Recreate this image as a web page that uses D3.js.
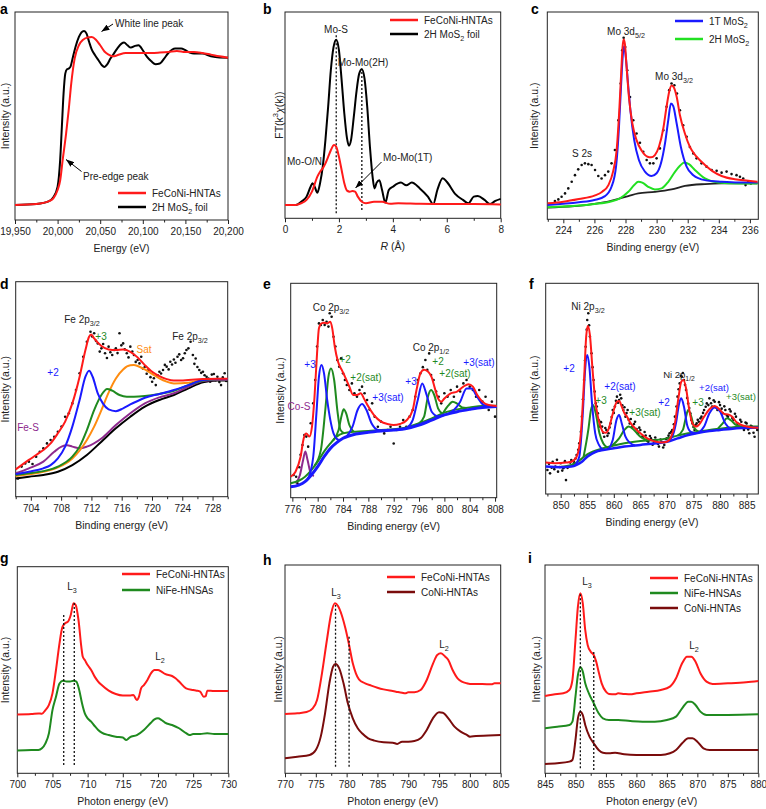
<!DOCTYPE html>
<html><head><meta charset="utf-8">
<script src="https://cdn.jsdelivr.net/npm/d3@7"></script>
<style>body{margin:0;background:#fff}svg{display:block}</style>
</head><body>
<script>
// ---------------- DATA ----------------
// Panel a: Mo K-edge XANES
const aTicks=[19950,20000,20050,20100,20150,20200];
const aMinor=[19975,20025,20075,20125,20175];
const aFeCoNi=[[19950,7.2],[19975,7.7],[19990,9.1],[19995,10.4],[20000,14.4],[20003,19],[20006,29],[20010,41.6],[20013,52.8],[20016,65.6],[20020,77.6],[20025,84],[20030,86.7],[20035,87.7],[20040,88],[20045,86.7],[20050,84],[20055,81],[20060,79.5],[20065,78.7],[20070,79.2],[20080,80.3],[20090,80.3],[20100,80.3],[20110,80.3],[20120,80.5],[20130,80.8],[20140,81.3],[20150,80.8],[20160,80.8],[20170,80.3],[20180,79.5],[20190,78.7],[20200,78]];
const aMoS2=[[19950,7.2],[19975,7.7],[19990,9.1],[19995,10.9],[20000,16],[20003,28.8],[20005,44.8],[20007,60.8],[20009,70.4],[20011,72.5],[20013,72.8],[20015,73.6],[20018,78.4],[20021,83.2],[20025,88],[20028,90.2],[20031,90.9],[20034,89.6],[20037,85.6],[20040,82],[20044,79.2],[20048,76.8],[20052,74.4],[20055,73.6],[20058,74.7],[20062,77.6],[20066,80],[20070,82.4],[20075,84.8],[20078,85.3],[20082,84],[20086,82.9],[20091,83.7],[20095,84],[20100,81.6],[20105,78.4],[20110,76.3],[20115,74.9],[20120,75.2],[20125,77.6],[20130,80.3],[20138,82.4],[20145,82.4],[20150,81.6],[20155,80.5],[20160,80],[20170,80],[20180,78.7],[20190,78.1],[20200,78]];

// Panel b: FT-EXAFS
const bTicks=[0,2,4,6,8];
const bMinor=[1,3,5,7];
const bMoS2=[[0,6.5],[0.4,6.5],[0.6,8],[0.8,10.5],[0.95,15.3],[1.02,17],[1.1,15.3],[1.2,12.4],[1.3,17],[1.4,25],[1.5,38],[1.6,54],[1.7,71.8],[1.8,83],[1.9,86.6],[2.0,81.5],[2.1,67],[2.2,50.8],[2.3,38.7],[2.37,35.2],[2.45,38],[2.55,49],[2.65,61.3],[2.75,70],[2.85,72.3],[2.95,67.7],[3.05,54],[3.15,34.7],[3.25,20],[3.32,14.5],[3.4,17.3],[3.5,18.5],[3.6,13.7],[3.72,7.6],[3.85,13.7],[4.0,15.3],[4.3,17.3],[4.5,16],[4.7,17.3],[5.0,14.5],[5.3,10.5],[5.5,6.9],[5.65,13.7],[5.85,19.4],[6.0,17.7],[6.3,12],[6.6,8.9],[6.8,7.3],[7.0,10.5],[7.15,10.8],[7.4,8.9],[7.6,6.9],[7.8,8.4],[8.0,9.4]];
const bFeCoNi=[[0,6.5],[0.4,6.5],[0.6,7.3],[0.8,8.9],[1.0,12.9],[1.2,20.2],[1.3,22.6],[1.4,24.2],[1.5,26.6],[1.6,29.8],[1.7,33],[1.82,35.5],[1.9,34.7],[2.0,29.8],[2.1,23.4],[2.2,17],[2.3,13.4],[2.4,12.9],[2.5,13.2],[2.6,12.9],[2.7,10.5],[2.85,8],[3.0,7.3],[3.3,8],[3.6,8],[3.9,7],[4.2,7.3],[5.0,7],[6.0,6.9],[7.0,6.9],[8.0,6.7]];
const bDash=[[1.9,2.4,88.7],[2.85,4,72.6]];

// Panel c: Mo 3d XPS
const cTicks=[224,226,228,230,232,234,236];
const cMinor=[223,225,227,229,231,233,235];
const cDots=[[223.46,8.8],[223.68,9.6],[223.89,10.9],[224.11,12.5],[224.32,14.9],[224.54,18.1],[224.75,21.3],[224.96,24.1],[225.18,26.2],[225.39,27],[225.61,26.6],[225.82,26.2],[226.04,23.8],[226.25,20.9],[226.46,19.7],[226.68,21.3],[226.89,23],[227.1,27],[227.32,33.4],[227.54,47.8],[227.69,65.5],[227.79,81.5],[227.88,87.6],[227.98,83.1],[228.11,71.9],[228.29,59],[228.5,47.8],[228.71,41.4],[228.93,36.9],[229.14,32.6],[229.36,28.6],[229.57,27],[229.79,27],[230,29.4],[230.21,34.2],[230.43,43],[230.64,54.3],[230.81,62.3],[230.96,65.5],[231.14,64.7],[231.31,60.7],[231.5,52.6],[231.71,45.4],[231.93,39.8],[232.14,34.9],[232.36,31.8],[232.57,29.4],[232.89,27],[233.21,25.4],[233.54,23.8],[233.86,23.4],[234.18,22.5],[234.5,23],[234.82,21.8],[235.14,21.3],[235.36,20.5],[235.57,19.7],[235.72,16.5],[235.89,18.1],[236.06,17.3]];
const cEnvelope=[[222.99,7.7],[224,8.5],[225,9.8],[226,11.4],[226.5,13.3],[226.9,16.5],[227.2,23],[227.43,33.4],[227.6,52.6],[227.73,71.9],[227.81,83.1],[227.88,86.7],[227.96,84.6],[228.07,73.5],[228.22,59],[228.44,46.2],[228.71,38.2],[229.04,33.1],[229.42,30.2],[229.64,29.9],[229.89,31],[230.15,35],[230.43,43.8],[230.64,54.3],[230.81,61.5],[230.96,64.5],[231.11,63.6],[231.29,59.1],[231.5,50.2],[231.82,41.4],[232.14,34.9],[232.57,30.2],[233.11,26.2],[233.64,23],[234.18,20.9],[235.03,19.3],[235.9,18.6],[236.49,18.1]];
const c1T=[[222.99,6.9],[225,8.2],[226,9.3],[226.68,11.2],[227.1,15.7],[227.39,25.4],[227.58,44.6],[227.71,63.9],[227.81,77.5],[227.9,83.5],[228.0,79.5],[228.14,67.4],[228.31,52.9],[228.56,38.2],[228.86,28.6],[229.25,23],[229.68,20.9],[230,22.2],[230.28,27],[230.54,36.6],[230.75,47.8],[230.92,55.9],[231.07,54.6],[231.29,46.2],[231.56,34.9],[231.93,25.4],[232.36,21.3],[233.11,18.9],[234.18,18.1],[235.25,17.7],[236.49,17.7]];
const c2H=[[222.99,5.8],[225,6.6],[226,7.4],[227,8.5],[227.64,10.1],[228.18,13.3],[228.56,16.5],[228.82,18.1],[229.08,17.7],[229.46,15.7],[229.89,14.4],[230.32,14.9],[230.75,18.1],[231.18,22.9],[231.5,25.8],[231.78,27.4],[232.08,26.6],[232.46,23.8],[233.11,19.7],[233.96,17.8],[235.25,17.3],[236.49,17.3]];
const cBackground=[[222.99,5.6],[226,7.4],[227,8.8],[227.64,10.1],[228.18,11.2],[228.82,12.5],[229.89,13.2],[230.96,14.4],[231.82,16.1],[233.11,17],[234.18,17.3],[236.49,17.3]];

// Panel d: Fe 2p XPS
const dTicks=[704,708,712,716,720,724,728];
const dMinor=[702,706,710,714,718,722,726,730];
const dDots=[[702.3,8.5],[702.78,14],[703.26,15.5],[703.74,16.3],[704.22,15.2],[704.7,18.6],[705.18,20.9],[705.65,22.5],[706.13,24.8],[706.61,26.4],[707.09,27.9],[707.57,30.2],[708.05,32.6],[708.53,37.2],[709.01,38.8],[709.48,43.4],[709.96,49.6],[710.44,57.4],[710.92,65.1],[711.4,72.1],[711.88,76.7],[712.1,74.5],[712.36,76],[712.6,72.5],[712.84,71.3],[713.1,67.5],[713.32,69],[713.55,71],[713.8,66.7],[714.05,64.5],[714.27,69.8],[714.5,67.2],[714.75,65.9],[715.0,68.2],[715.23,69],[715.45,66.8],[715.71,76],[715.95,70.4],[716.19,71.3],[716.4,68.6],[716.67,66.7],[716.9,64.8],[717.14,69.8],[717.4,67.5],[717.62,65.9],[717.85,62.7],[718.1,63.6],[718.35,62],[718.58,65.1],[718.8,59.6],[719.06,60.5],[719.3,57.2],[719.54,58.9],[719.8,55.6],[720.02,53.5],[720.25,55.1],[720.5,51.9],[720.75,56.5],[720.98,58.1],[721.2,57.3],[721.46,58.9],[721.7,61.3],[721.94,60.5],[722.2,59.2],[722.42,62.8],[722.65,61.5],[722.89,63.8],[723.1,62.3],[723.37,65.1],[723.6,66.2],[723.85,63.6],[724.1,64.4],[724.33,66.7],[724.55,68.2],[724.81,69],[725.1,72.1],[725.4,65.9],[725.6,61.8],[725.77,64.3],[726.0,60.3],[726.25,58.9],[726.5,57.6],[726.73,58.1],[726.95,56.5],[727.21,55.8],[727.45,54.9],[727.69,53.5],[727.9,56.8],[728.17,57.1],[728.4,54.2],[728.64,55.8],[728.9,53.3],[729.12,51.9],[729.35,55.5],[729.6,57.4],[729.8,53.8]];
const dEnvelope=[[702,12.7],[702.78,14.7],[703.74,17.1],[704.7,19.4],[705.65,21.7],[706.61,24.8],[707.57,29.5],[708.53,34.9],[709.48,43.4],[710.44,55.8],[711.21,68.2],[711.69,74.4],[711.97,75.5],[712.36,73.6],[713.32,70.1],[714.27,68.5],[715.23,68.2],[716.19,68.5],[717.14,67.4],[718.1,64.8],[719.06,61.2],[720.02,58.1],[720.98,56.1],[721.94,54.7],[722.89,54],[723.85,54],[724.81,54.3],[726.73,54.7],[728.64,54.9],[730,54.9]];
const dFe2=[[702,10.5],[703.74,11.6],[705.65,13.2],[706.61,14.7],[707.57,17.8],[708.53,23.3],[709.48,32.6],[710.44,45],[711.21,55.8],[711.69,58.6],[712.16,55.8],[712.84,48.1],[713.51,43.4],[714.27,40.6],[715.23,39.8],[716.19,41.1],[717.14,42.9],[718.1,44.5],[719.06,46],[720.98,47.8],[722.89,49.6],[724.81,51.9],[726.73,54.3],[728.64,54.7],[730,54.7]];
const dFe3=[[702,10.1],[703.74,10.9],[705.65,11.9],[707.57,14],[709.48,18.6],[710.44,23.3],[711.4,31],[712.36,40.3],[713.32,47.3],[714.08,50.1],[714.75,49.3],[715.71,47.3],[716.67,46.5],[717.62,46.5],[719.06,46.8],[720.98,47.8],[722.89,49.3],[724.81,51.9],[726.73,54],[728.64,54.6],[730,54.6]];
const dSat=[[702,9.6],[703.74,10.4],[705.65,11.6],[707.57,13.6],[709.48,17.8],[711.4,26.4],[712.36,32.6],[713.32,40.3],[714.27,48.4],[715.23,55],[716.19,59.2],[717.14,61.1],[717.62,61.2],[718.1,60.8],[719.06,59.2],[720.02,57.1],[720.98,55],[721.94,53.5],[722.89,52.7],[724.81,53],[726.73,54.3],[728.64,54.7],[730,54.7]];
const dFeS=[[702,10.9],[703.74,13.2],[705.65,16.3],[707.09,20.9],[708.05,23.3],[708.81,23.9],[709.48,23.3],[710.44,22.5],[711.4,23.3],[713.32,27.1],[715.23,33.3],[717.14,38.8],[719.06,43.4],[720.98,46.2],[722.89,48.1],[724.81,51.2],[726.73,53.8],[728.64,54.3],[730,54.3]];
const dBackground=[[702,8.5],[703.74,9.3],[705.65,10.1],[707.57,11.6],[709.48,14.7],[711.4,19.4],[713.32,25.6],[715.23,31.8],[717.14,37.2],[719.06,41.9],[720.98,45],[722.89,47.3],[724.81,50.4],[726.73,53.2],[728.64,54],[730,54]];

// Panel e: Co 2p XPS
const eTicks=[776,780,784,788,792,796,800,804,808];
const eMinor=[778,782,786,790,794,798,802,806];
const eDots=[[776.2,10.6],[776.6,9.8],[776.8,6.7],[777.1,14.2],[777.3,20],[777.6,24.6],[777.9,29.2],[778.2,28.5],[778.5,23.8],[778.9,34.7],[779.3,44],[779.6,54.9],[779.9,70.5],[780.2,81.3],[780.5,80.6],[780.8,82.9],[781.1,80.6],[781.4,82.1],[781.7,79.8],[781.9,86],[782.2,84.4],[782.5,75.1],[782.8,70.5],[783.1,64.2],[783.4,61.1],[783.7,65],[784.0,58],[784.3,54.9],[784.6,52.6],[785,50.2],[785.4,53.3],[785.8,48.7],[786.2,47.1],[786.6,50.2],[787.0,51.8],[787.4,48.7],[787.8,45.6],[788.2,41.1],[788.6,44],[789.0,37.8],[789.5,33.1],[790,35.5],[790.5,30],[791,31.6],[791.5,33.1],[792,25.3],[792.5,31.6],[793,33.1],[793.5,36.2],[794,33.1],[794.5,37.8],[795,40.9],[795.4,47.1],[795.8,54.9],[796.2,57.9],[796.6,60.9],[797.0,64.2],[797.3,59.6],[797.6,67.3],[797.9,57.2],[798.3,54.9],[798.7,49.5],[799.1,47.1],[799.5,44],[800,48.7],[800.5,47.1],[801,50.2],[801.5,47.1],[802,51.8],[802.5,49.5],[803,53.3],[803.5,54.9],[804,51.8],[804.5,50.2],[805,47.1],[805.5,50.2],[806,44.8],[806.5,47.1],[807,40.9],[807.5,44.8],[808,37.8]];
const eEnvelope=[[775.74,9.8],[776.5,12.1],[777.3,19.1],[777.8,27.7],[778.2,29.9],[778.7,28.5],[779.1,33.1],[779.5,47.1],[779.9,67.3],[780.2,79],[780.6,81.3],[781.0,81.6],[781.5,81.3],[782.0,82.1],[782.3,79],[782.7,70.4],[783.2,63.5],[783.8,59.6],[784.3,56.5],[785,51.8],[785.6,47.9],[786.2,47.9],[786.8,48.7],[787.3,46.3],[788,42.5],[789,38.1],[790,35.5],[791,34.4],[792,33.9],[793,34.4],[794,36],[795,40.9],[795.6,50.2],[796.2,57.9],[796.8,59.7],[797.5,58.6],[798.0,56.1],[798.5,51],[799,46.3],[799.5,44.8],[800,46.3],[801,48.7],[802,49.5],[803,51.8],[803.8,52.9],[804.5,51.8],[805.2,47.9],[806,44.8],[807,43.2],[808.26,42.8]];
const eBlueBg=[[775.74,5.1],[777,5.9],[778,7.5],[779,10.6],[780,14.5],[781,19.1],[782,23],[783,25.7],[784,27.7],[786,29.7],[788,30.5],[790,31.1],[792,31.6],[794,32.3],[796,33.9],[798,36.2],[800,38.6],[802,40.1],[804,41.2],[806,42.1],[808.26,42.5]];
const eCo3a=[[778.5,9],[779.3,19.1],[779.8,39.3],[780.2,56.5],[780.6,61.9],[781.0,58],[781.5,45.6],[782,36.2],[782.5,30],[783,27.5],[783.5,26.7]];
const eCo3sat=[[784.5,28.2],[785.5,33.1],[786.3,40.9],[787,43.7],[787.7,40.9],[788.5,34.7],[789.5,31.6],[790.5,31.2]];
const eCo3b=[[794,32.3],[795,36.2],[795.8,45.6],[796.5,53.3],[797.2,47.9],[798,40.1],[799,38],[800,38.6]];
const eCo3satb=[[800.5,38.9],[801.5,40.9],[802.5,44.8],[803.5,50.9],[804.3,50.9],[805,47.9],[806,43.7],[807,42.3]];
const eGreenBg=[[775.74,6.7],[777,7.9],[778,9.8],[779,12.9],[780,16.8],[781,21.5],[782,25.3],[783,28.5],[784,30],[786,30.8],[788,31.1],[790,31.6],[792,31.9],[794,32.8],[796,34.7],[798,37],[800,39.7],[802,41.2],[804,42.1],[806,42.8],[808.26,42.9]];
const eCo2a=[[779.5,14.9],[780.5,22.2],[781.2,40.9],[781.7,56.5],[782.1,60.3],[782.6,54.9],[783.1,40.9],[783.6,31.6],[784.2,30.1]];
const eCo2sat=[[782.5,26.9],[783.3,31.6],[783.8,38.6],[784.1,41.2],[784.5,39.3],[785,33.9],[785.7,30.7]];
const eCo2b=[[796,34.7],[796.8,37.8],[797.4,47.1],[797.9,50.2],[798.4,47.9],[799,41.7],[799.7,39.2]];
const eCo2satb=[[799.8,39.5],[800.6,42.9],[801.3,44.8],[802,43.9],[802.8,42.1],[803.5,41.8]];
const eCoS=[[776.5,6.7],[777.2,10.6],[777.7,17.6],[778.05,21.5],[778.4,17.6],[778.9,11.4],[779.4,10.1]];

// Panel f: Ni 2p XPS
const fTicks=[850,855,860,865,870,875,880,885];
const fMinor=[847.5,852.5,857.5,862.5,867.5,872.5,877.5,882.5];
const fDots=[[847.5,11.4],[847.8,14.3],[848,9.8],[848.3,12.5],[848.5,15.3],[848.8,11.8],[849,13],[849.3,16.2],[849.5,10.6],[849.8,12.8],[850,14.6],[850.3,11.1],[850.5,12.2],[850.8,15.6],[851,6.6],[851.3,12.4],[851.5,13],[851.8,14.9],[852,16.1],[852.3,13.8],[852.5,15.3],[852.8,16.8],[853,18.5],[853.3,21],[853.5,24.1],[853.8,29.5],[854,36.7],[854.2,45],[854.4,54.1],[854.6,63.5],[854.7,69.9],[854.9,78],[855,82.6],[855.2,85.8],[855.35,80.1],[855.5,74.7],[855.8,66.8],[856,60.2],[856.2,54.1],[856.4,48.6],[856.6,43],[856.8,41.5],[857,38.3],[857.2,35],[857.4,32],[857.6,34.1],[857.8,32],[858,29.1],[858.2,27.2],[858.4,31.3],[858.6,30.4],[858.8,27.6],[859,28.8],[859.2,31.6],[859.4,33.5],[859.6,36.5],[859.8,39.9],[860,38.5],[860.2,41.5],[860.4,44.2],[860.6,46.2],[860.8,43.3],[861,44.6],[861.2,47.1],[861.4,45.4],[861.6,42.1],[861.8,39.9],[862,41.2],[862.2,36.7],[862.4,38.4],[862.6,39.9],[862.8,35.2],[863,33.5],[863.2,35.6],[863.5,32],[863.8,33.2],[864,34.3],[864.3,30.8],[864.5,28.8],[864.8,31.5],[865,30.4],[865.3,27.1],[865.5,27.2],[865.8,29.4],[866,27.8],[866.3,25.2],[866.5,24.8],[866.8,27.5],[867,26.4],[867.3,23.4],[867.5,24.1],[867.8,26.8],[868,25.6],[868.3,23.7],[868.5,22.5],[868.8,25.9],[869,24.8],[869.3,22.1],[869.5,23.3],[869.8,26.1],[870,26.4],[870.3,27.7],[870.5,28.8],[870.8,29.5],[871,30.4],[871.3,33.1],[871.5,36.7],[871.8,41.5],[872,46.2],[872.2,49.7],[872.4,52.5],[872.6,56.1],[872.8,55.7],[873,57.4],[873.2,54.1],[873.4,51.8],[873.6,49.4],[873.8,45.6],[874,43],[874.2,40.8],[874.4,38.3],[874.6,35.1],[874.8,33.5],[875,31.8],[875.2,30.4],[875.4,32.7],[875.6,33.5],[875.8,35.2],[876,34.3],[876.3,35.9],[876.5,36.7],[876.8,38.5],[877,39.9],[877.3,41.4],[877.5,43],[877.8,42.2],[878,45.4],[878.3,43.1],[878.5,41.5],[878.8,44.5],[879,43.8],[879.3,41.2],[879.5,39.9],[879.8,43.6],[880,42.2],[880.3,40.5],[880.5,38.3],[880.8,41.6],[881,39.9],[881.3,37.3],[881.5,36.7],[881.8,40.2],[882,39.2],[882.3,36.1],[882.5,35.1],[882.8,38.1],[883,36.7],[883.3,33.4],[883.5,32],[883.8,35.2],[884,34.3],[884.3,31.3],[884.5,30.4],[884.8,33.9],[885,33.5],[885.3,30.6],[885.5,28.8],[885.8,32.4],[886,32],[886.3,29.1],[886.5,27.2],[886.8,31.6],[887,30.4]];
const fEnvelope=[[847.18,14.9],[849,14.6],[851,14.9],[852,15.3],[853,17.7],[853.8,28.8],[854.4,54.1],[854.8,74.7],[855.1,79.7],[855.5,75.5],[856,58.9],[856.5,44.6],[857,36.7],[857.5,32],[858,29.4],[858.5,29.1],[859,30.7],[859.5,35.1],[860,39.9],[860.6,43.8],[861,44.1],[861.5,41.5],[862,38.3],[862.5,36.7],[863,34.3],[864,31.2],[865,28.8],[866,26.9],[867,25.6],[868,24.8],[869,24.5],[870,24.8],[870.8,27.2],[871.5,33.5],[872.2,46.2],[872.7,53.3],[873.1,54.1],[873.6,50.2],[874.2,39.9],[874.8,33.5],[875.5,32],[876,32.8],[877,36.7],[878,40.2],[879,41.8],[880,39.9],[880.8,38],[881.5,37.8],[882.3,36.7],[883,34.3],[884,32.8],[885,32],[886,31.6],[887.2,31.5]];
const fBlueBg=[[847.18,13],[850,12.7],[852,13],[853,13.8],[854,15.3],[855,17.7],[856,19.3],[857,20.4],[858,20.9],[860,21.7],[862,22.5],[865,23.3],[868,24.1],[870,24.8],[872,26.4],[874,28],[876,29.1],[878,29.9],[880,30.4],[882,30.9],[884,31.3],[887.2,31.6]];
const fGreenBg=[[850,12.9],[852,13.8],[853,14.9],[854,16.9],[855,18.8],[856,20.1],[858,21.7],[860,23],[862,24.1],[865,25.2],[868,25.6],[870,26.4],[872,27.7],[874,28.8],[876,29.6],[878,30.4],[880,31],[882,31.6],[884,32],[887.2,32]];
const fNi2a=[[852.5,13.2],[853.5,17.7],[854.2,39.9],[854.6,58.9],[855.0,66],[855.4,60.4],[855.9,43],[856.5,28.8],[857.2,23.3],[858,20.9]];
const fNi2sat=[[859,21.3],[859.8,25.6],[860.5,35.1],[861,37.5],[861.5,33.5],[862.2,27.2],[863,24.4],[864,23]];
const fNi3a=[[854.3,17.5],[855.2,30.4],[855.7,39.9],[856.1,42.2],[856.6,38.3],[857.3,28.8],[858,24.1],[858.7,22.2]];
const fNi3sat=[[859.5,22.6],[861,26.4],[862,30.4],[862.8,32],[863.8,30.4],[865,27.2],[866.5,25.6],[868,25.6]];
const fNi2b=[[870,24.8],[871,27.2],[871.7,33.5],[872.3,43],[872.7,45.4],[873.2,41.5],[873.8,32.8],[874.5,29.5],[875.5,28.8]];
const fNi3b=[[872,27.7],[873,30.4],[873.6,36.7],[874,39.9],[874.5,37.5],[875.2,31.2],[876,29.6]];
const fNi2satb=[[876,29.1],[877,32],[878,38.3],[879,41.1],[880,39.2],[881,33.5],[882,30.9]];
const fNi3satb=[[879.5,30.8],[880.5,33.5],[881.3,35.9],[882,35.1],[883,32.8],[884,32]];

// Panel g: Fe L-edge
const gTicks=[700,705,710,715,720,725,730];
const gMinor=[702.5,707.5,712.5,717.5,722.5,727.5];
const gFeCoNi=[[700,28.5],[702,28.7],[703,29],[703.5,28.8],[704,30.6],[704.5,33.1],[705,38.7],[705.5,50],[706,62.9],[706.4,70.6],[706.8,72.6],[707.2,73.4],[707.6,76.6],[708.0,82.3],[708.3,81.5],[708.7,74.2],[709.1,61.3],[709.3,56.5],[709.6,54.8],[710,52.4],[710.5,50],[711,46.8],[711.5,44.4],[712,42.7],[713,40],[714,38.4],[715,37.7],[716,37.7],[716.5,37.9],[717,35.5],[717.3,37.1],[717.6,41.1],[718,42.7],[718.5,45.2],[719,48.4],[719.5,50],[720,50],[720.5,49.2],[721,48.1],[722,47.1],[722.5,46],[723,44.4],[724,41.1],[725,40.3],[725.5,40],[726,39.5],[726.5,37.1],[726.8,37.4],[727,40],[728,39.8],[730,39.8]];
const gNiFe=[[700,11],[702,11.3],[703,11.3],[703.5,12.1],[704,14.5],[704.5,19.4],[705,30.6],[705.5,37.1],[706,43.5],[706.5,44.8],[707,44.4],[707.5,44.4],[708,44.8],[708.4,44.4],[708.8,40.3],[709.2,33.9],[709.6,29],[710,26.6],[710.5,25],[711,22.9],[711.5,21],[712,19.7],[713,18.5],[714,17.7],[715,17.3],[715.5,16.1],[716,17.4],[717,18.5],[718,21],[719,24.5],[719.5,26.1],[720,26.6],[720.5,25.8],[721,24.5],[722,23.4],[723,21.8],[724,19.4],[724.5,18.5],[725,19],[726,19],[727,19.4],[728,19],[730,19]];
const gDash=[[706.6,4,76.6],[708.1,4,83]];

// Panel h: Co L-edge
const hTicks=[770,775,780,785,790,795,800,805];
const hMinor=[772.5,777.5,782.5,787.5,792.5,797.5,802.5];
const hFeCoNi=[[770,28.5],[772,28.8],[773.5,29.4],[774.5,31.2],[775.2,35.2],[776,48],[776.8,64],[777.5,76.8],[778.1,81.6],[778.6,80.3],[779.2,76],[779.8,69.6],[780.4,61.6],[781,52.8],[781.5,48],[782,45.1],[783,43.2],[784,42.1],[785,41.1],[786,40.3],[787,39.7],[788,39.2],[789,38.7],[789.5,38.4],[790,38.9],[791,38.9],[792,40],[793,44.8],[794,52.5],[794.7,56.8],[795.3,57.6],[796,56],[796.5,54.4],[797.2,49.6],[798,45.6],[798.7,44],[799.5,43.2],[800,42.9],[802,42.9],[803.5,42.7],[804,43.2],[805,43.2]];
const hCoNi=[[770,7.2],[772,8],[774,8.8],[775,11.2],[775.8,17.6],[776.5,28.8],[777.2,43.2],[777.8,51.2],[778.2,52.5],[778.8,50.4],[779.5,43.2],[780.2,33.6],[781,26.4],[781.8,21.6],[782.5,19.2],[783.5,16.8],[784.5,15.7],[786,14.9],[787.5,14.7],[788.2,14.1],[789,15.2],[790,15.2],[791,15.5],[792,16.8],[793,20.8],[794,26.4],[795,29.3],[795.6,29.1],[796.5,26.4],[797.5,22.4],[798.5,20],[799.5,18.4],[800,17.6],[801,17.9],[803,18.1],[805,18.4]];
const hDash=[[778.2,3.2,80.8],[780.4,3.2,66.4]];

// Panel i: Ni L-edge
const iTicks=[845,850,855,860,865,870,875,880];
const iMinor=[847.5,852.5,857.5,862.5,867.5,872.5,877.5];
const iFeCoNi=[[845,37.1],[847,38.1],[848,38.4],[849,40],[849.5,44.8],[850,64],[850.4,80],[850.8,86.4],[851.2,81.6],[851.6,68.8],[852,61.6],[852.5,58.4],[853,56.8],[853.4,53.6],[853.8,48.8],[854.3,43.2],[855,39.2],[855.5,38.1],[856.5,37.9],[857,38.4],[858,38.1],[859,37.9],[860,38.4],[862,39.2],[864,40],[865.5,41.6],[866.5,45.6],[867.5,52.8],[868.3,56],[869,56],[869.7,53.6],[870.5,48],[871.5,44],[872.5,42.9],[875,43.2],[878,43.7],[880,44.3]];
const iNiFe=[[845,21.6],[847,22.4],[849,23.2],[849.5,24.8],[850,36.8],[850.4,47.2],[850.8,50.9],[851.2,48.8],[851.6,43.2],[852.2,38.4],[853,33.6],[853.8,28.8],[854.5,26.4],[855.5,25.6],[857,25.6],[859,25.1],[861,24.8],[863,24.8],[865,25.6],[866.5,27.2],[867.5,31.2],[868.5,34.4],[869,34.4],[869.7,32.8],[870.5,29.6],[871.5,28],[873,28],[875,28],[880,28.3]];
const iCoNi=[[845,4.5],[847,4.8],[849,5.6],[849.5,6.4],[850,16],[850.4,26.4],[850.8,29.6],[851.2,28],[851.6,23.2],[852.3,17.6],[853,14.4],[853.8,11.2],[854.5,9.9],[855.5,9.6],[856.5,9.9],[858,9.1],[860,8.8],[862,8.8],[864,8.8],[865.5,9.6],[866.5,11.2],[867.5,14.4],[868.5,16.8],[869.2,16.8],[870,15.2],[871,12],[872,11.2],[874,11.2],[880,11.2]];
const iDash=[[850.8,2.4,86.4],[853,1.6,58.4]];

// ---------------- DRAWING ----------------
const FONT="'Liberation Sans', Arial, Helvetica, sans-serif";
const RED="#ff1a1a", BLUE="#1a1aff", LIME="#22e022", GREEN="#1f8a1f", ORANGE="#ff8c10", PURPLE="#8e2a8e", DKRED="#7a0c0c";

const svg=d3.select("body").append("svg").attr("width",766).attr("height",809);
const defs=svg.append("defs");
defs.append("marker").attr("id","arr").attr("viewBox","0 0 8 6").attr("refX",8).attr("refY",3)
  .attr("markerWidth",8).attr("markerHeight",6).attr("markerUnits","userSpaceOnUse").attr("orient","auto")
  .append("path").attr("d","M0,0L8,3L0,6Z").attr("fill","#000");

function rich(g,x,y,parts,o={}){
  const size=o.size||10;
  const t=g.append("text").attr("x",x).attr("y",y).attr("font-family",FONT).attr("font-size",size)
    .attr("fill",o.color||"#222").attr("text-anchor",o.anchor||"start");
  if(o.transform) t.attr("transform",o.transform);
  let cur=0;
  parts.forEach(p=>{
    let txt, off=0, small=false, ital=false;
    if(typeof p==="string"){txt=p;}
    else if(p.sub!==undefined){txt=p.sub;off=size*0.32;small=true;}
    else if(p.sup!==undefined){txt=p.sup;off=-size*0.4;small=true;}
    else if(p.i!==undefined){txt=p.i;ital=true;}
    const s=t.append("tspan").text(txt);
    if(off!==cur){s.attr("dy",off-cur);cur=off;}
    if(small) s.attr("font-size",size*0.72);
    if(ital) s.attr("font-style","italic");
  });
  return t;
}

function panel(o){
  const g=svg.append("g");
  const x=d3.scaleLinear().domain(o.xd).range([o.l,o.r]);
  const y=d3.scaleLinear().domain([0,100]).range([o.b,o.t]);
  const ax=g.append("g").attr("transform",`translate(0,${o.b})`)
    .call(d3.axisBottom(x).tickValues(o.major).tickSize(4).tickPadding(4).tickFormat(o.fmt||d3.format("d")));
  ax.select(".domain").remove();
  ax.selectAll("line").attr("stroke","#222");
  ax.selectAll("text").attr("font-family",FONT).attr("font-size",10).attr("fill","#222");
  const am=g.append("g").attr("transform",`translate(0,${o.b})`)
    .call(d3.axisBottom(x).tickValues(o.minor).tickSize(2.5).tickFormat(""));
  am.select(".domain").remove();
  am.selectAll("line").attr("stroke","#222");
  g.append("rect").attr("x",o.l).attr("y",o.t).attr("width",o.r-o.l).attr("height",o.b-o.t)
    .attr("fill","none").attr("stroke","#222").attr("stroke-width",1);
  rich(g,(o.l+o.r)/2,o.b+32,o.xtitle,{anchor:"middle",size:10.5});
  rich(g,0,0,o.ytitle,{anchor:"middle",size:10.5,transform:`translate(${o.yx},${(o.t+o.b)/2}) rotate(-90)`}).attr("dy","0.35em");
  g.append("text").attr("x",o.lx).attr("y",o.ly).text(o.letter).attr("font-family",FONT)
    .attr("font-weight","bold").attr("font-size",14).attr("fill","#000");
  const line=d3.line().x(d=>x(d[0])).y(d=>y(d[1])).curve(d3.curveMonotoneX);
  const plot=g.append("g");
  return {g,plot,x,y,
    path(data,color,w){plot.append("path").datum(data).attr("d",line).attr("fill","none").attr("stroke",color).attr("stroke-width",w||2).attr("stroke-linejoin","round");},
    dots(data){plot.selectAll(null).data(data).enter().append("circle").attr("cx",d=>x(d[0])).attr("cy",d=>y(d[1])).attr("r",1.3).attr("fill","#111");},
    dashes(data){plot.selectAll(null).data(data).enter().append("line").attr("x1",d=>x(d[0])).attr("x2",d=>x(d[0])).attr("y1",d=>y(d[1])).attr("y2",d=>y(d[2])).attr("stroke","#111").attr("stroke-width",1.3).attr("stroke-dasharray","2,2");},
    legend(items,lx,ly,dy){items.forEach((it,k)=>{g.append("line").attr("x1",lx).attr("x2",lx+28).attr("y1",ly+k*dy).attr("y2",ly+k*dy).attr("stroke",it[1]).attr("stroke-width",2.5);
      rich(g,lx+34,ly+k*dy+3.5,it[0],{size:10});});},
    label(px,py,parts,color,anchor,size){rich(g,px,py,parts,{color:color||"#222",anchor:anchor||"middle",size:size||10});},
    arrow(x1,y1,x2,y2){g.append("line").attr("x1",x1).attr("y1",y1).attr("x2",x2).attr("y2",y2).attr("stroke","#000").attr("stroke-width",1).attr("marker-end","url(#arr)");}
  };
}
const IA=["Intensity (a.u.)"];
const BE=["Binding energy (eV)"];
const PE=["Photon energy (eV)"];

// a
const pa=panel({l:15,r:228,t:12,b:220,xd:[19950,20200],major:aTicks,minor:aMinor,fmt:d3.format(","),xtitle:["Energy (eV)"],ytitle:IA,yx:5,letter:"a",lx:0,ly:14});
pa.path(aMoS2,"#000");
pa.path(aFeCoNi,RED);
pa.label(115,27,["White line peak"],"#222","start");
pa.arrow(113,24,101.5,31.5);
pa.label(83,180,["Pre-edge peak"],"#222","start");
pa.arrow(81.5,171.5,66,159.5);
pa.legend([[["FeCoNi-HNTAs"],RED],[["2H MoS",{sub:"2"}," foil"],"#000"]],118,193,14);

// b
const pb=panel({l:285,r:500.7,t:12,b:218.3,xd:[0,8],major:bTicks,minor:bMinor,xtitle:[{i:"R"}," (Å)"],ytitle:["FT(k",{sup:"3"},{i:"χ"},"(k))"],yx:279,letter:"b",lx:263,ly:14});
pb.dashes(bDash);
pb.path(bMoS2,"#000");
pb.path(bFeCoNi,RED);
pb.label(336,33,["Mo-S"]);
pb.label(363,66,["Mo-Mo(2H)"]);
pb.label(287,165,["Mo-O/N"],"#222","start");
pb.label(383,161,["Mo-Mo(1T)"],"#222","start");
pb.arrow(381.5,162,355.5,188);
pb.legend([[["FeCoNi-HNTAs"],RED],[["2H MoS",{sub:"2"}," foil"],"#000"]],390,20,14);

// c
const pc=panel({l:547.3,r:758.3,t:12,b:219.3,xd:[222.97,236.54],major:cTicks,minor:cMinor,xtitle:BE,ytitle:IA,yx:534,letter:"c",lx:531,ly:14});
pc.dots(cDots);
pc.path(cBackground,"#222",1.8);
pc.path(c2H,LIME);
pc.path(c1T,BLUE);
pc.path(cEnvelope,RED);
pc.label(582,157,["S 2s"]);
pc.label(626,35,["Mo 3d",{sub:"5/2"}]);
pc.label(674,80,["Mo 3d",{sub:"3/2"}]);
pc.legend([[["1T MoS",{sub:"2"}],BLUE],[["2H MoS",{sub:"2"}],LIME]],675,21,18);

// d
const pd=panel({l:15.7,r:227.7,t:281.7,b:496.7,xd:[702,730],major:dTicks,minor:dMinor,xtitle:BE,ytitle:IA,yx:5,letter:"d",lx:0,ly:289});
pd.dots(dDots);
pd.path(dBackground,"#000");
pd.path(dFeS,PURPLE);
pd.path(dSat,ORANGE);
pd.path(dFe3,GREEN);
pd.path(dFe2,BLUE);
pd.path(dEnvelope,RED);
pd.label(82,323,["Fe 2p",{sub:"3/2"}]);
pd.label(101,340,["+3"],GREEN);
pd.label(144,353,["Sat"],ORANGE);
pd.label(190,340,["Fe 2p",{sub:"3/2"}]);
pd.label(53,376,["+2"],BLUE);
pd.label(28,431,["Fe-S"],PURPLE);

// e
const pe=panel({l:290.7,r:496.7,t:283.3,b:497.7,xd:[775.74,808.26],major:eTicks,minor:eMinor,xtitle:BE,ytitle:IA,yx:280,letter:"e",lx:263,ly:289});
pe.dots(eDots);
pe.path(eCoS,PURPLE);
pe.path(eGreenBg,GREEN);
[eCo2a,eCo2sat,eCo2b,eCo2satb].forEach(s=>pe.path(s,GREEN));
pe.path(eBlueBg,BLUE,3);
[eCo3a,eCo3sat,eCo3b,eCo3satb].forEach(s=>pe.path(s,BLUE));
pe.path(eEnvelope,RED);
pe.label(331,311,["Co 2p",{sub:"3/2"}]);
pe.label(310,368,["+3"],BLUE);
pe.label(345,363,["+2"],GREEN);
pe.label(366,381,["+2(sat)"],GREEN);
pe.label(388,401,["+3(sat)"],BLUE);
pe.label(299,410,["Co-S"],PURPLE);
pe.label(431,351,["Co 2p",{sub:"1/2"}]);
pe.label(411,385,["+3"],BLUE);
pe.label(438,365,["+2"],GREEN);
pe.label(455,377,["+2(sat)"],GREEN);
pe.label(479,366,["+3(sat)"],BLUE);

// f
const pf=panel({l:545.7,r:758.3,t:283.3,b:494,xd:[847.18,887.2],major:fTicks,minor:fMinor,xtitle:BE,ytitle:IA,yx:534,letter:"f",lx:529,ly:289});
pf.dots(fDots);
pf.path(fGreenBg,GREEN);
[fNi3a,fNi3sat,fNi3b,fNi3satb].forEach(s=>pf.path(s,GREEN));
pf.path(fBlueBg,BLUE,2.5);
[fNi2a,fNi2sat,fNi2b,fNi2satb].forEach(s=>pf.path(s,BLUE));
pf.path(fEnvelope,RED);
pf.label(588,310,["Ni 2p",{sub:"3/2"}]);
pf.label(569,372,["+2"],BLUE);
pf.label(601,404,["+3"],GREEN);
pf.label(620,390,["+2(sat)"],BLUE);
pf.label(645,416,["+3(sat)"],GREEN);
pf.label(679,378,["Ni 2p",{sub:"1/2"}],"#222","middle",9.5);
pf.label(664,406,["+2"],BLUE);
pf.label(698,406,["+3"],GREEN);
pf.label(714,391,["+2(sat)"],BLUE,"middle",9.5);
pf.label(741,400,["+3(sat)"],GREEN,"middle",9.5);

// g
const pg=panel({l:17.3,r:228.3,t:566.7,b:773.3,xd:[700,730],major:gTicks,minor:gMinor,xtitle:PE,ytitle:IA,yx:5,letter:"g",lx:0,ly:563});
pg.path(gNiFe,GREEN);
pg.path(gFeCoNi,RED);
pg.dashes(gDash);
pg.label(72,590,["L",{sub:"3"}]);
pg.label(160,660,["L",{sub:"2"}]);
pg.legend([[["FeCoNi-HNTAs"],RED],[["NiFe-HNSAs"],GREEN]],122,574,16);

// h
const ph=panel({l:285,r:500.7,t:565,b:773.3,xd:[770,805],major:hTicks,minor:hMinor,xtitle:PE,ytitle:IA,yx:278,letter:"h",lx:263,ly:565});
ph.path(hCoNi,DKRED);
ph.path(hFeCoNi,RED);
ph.dashes(hDash);
ph.label(336,596,["L",{sub:"3"}]);
ph.label(444,648,["L",{sub:"2"}]);
ph.legend([[["FeCoNi-HNTAs"],RED],[["CoNi-HNTAs"],DKRED]],387,577,15);

// i
const pi=panel({l:545,r:758.3,t:565,b:773.3,xd:[845,880],major:iTicks,minor:iMinor,xtitle:PE,ytitle:IA,yx:536,letter:"i",lx:528,ly:563});
pi.path(iCoNi,DKRED);
pi.path(iNiFe,GREEN);
pi.path(iFeCoNi,RED);
pi.dashes(iDash);
pi.label(587,585,["L",{sub:"3"}]);
pi.label(694,649,["L",{sub:"2"}]);
pi.legend([[["FeCoNi-HNTAs"],RED],[["NiFe-HNSAs"],GREEN],[["CoNi-HNTAs"],DKRED]],650,578,15);
</script>
</body></html>
